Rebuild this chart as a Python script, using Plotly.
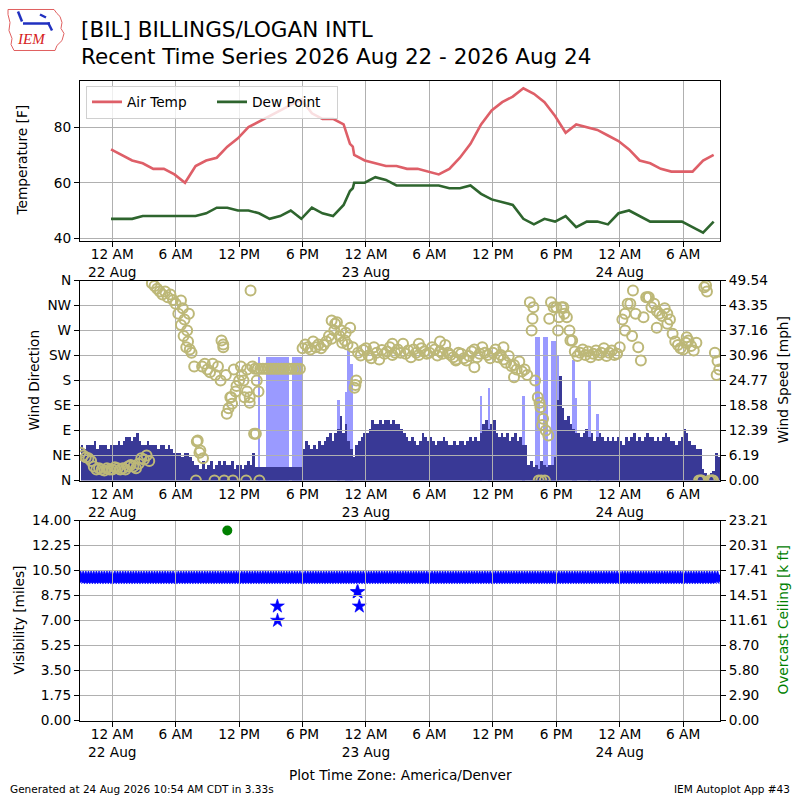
import pandas as pd
import plotly.graph_objects as go

# ---------------- DATA ----------------
temp_times = [
    "2026-08-21 23:53",
    "2026-08-22 00:53", "2026-08-22 01:53", "2026-08-22 02:53", "2026-08-22 03:53", "2026-08-22 04:53",
    "2026-08-22 05:53", "2026-08-22 06:53", "2026-08-22 07:53", "2026-08-22 08:53", "2026-08-22 09:53",
    "2026-08-22 10:53", "2026-08-22 11:53", "2026-08-22 12:53", "2026-08-22 13:53", "2026-08-22 14:53",
    "2026-08-22 15:53", "2026-08-22 16:53", "2026-08-22 17:53", "2026-08-22 18:53", "2026-08-22 19:53",
    "2026-08-22 20:53", "2026-08-22 21:53", "2026-08-22 22:29", "2026-08-22 22:45", "2026-08-22 22:53",
    "2026-08-22 23:53",
    "2026-08-23 00:53", "2026-08-23 01:53", "2026-08-23 02:53", "2026-08-23 03:53", "2026-08-23 04:53",
    "2026-08-23 05:53", "2026-08-23 06:53", "2026-08-23 07:53", "2026-08-23 08:53", "2026-08-23 09:53",
    "2026-08-23 10:53", "2026-08-23 11:53", "2026-08-23 12:53", "2026-08-23 13:53", "2026-08-23 14:53",
    "2026-08-23 15:53", "2026-08-23 16:53", "2026-08-23 17:53", "2026-08-23 18:53", "2026-08-23 19:53",
    "2026-08-23 20:53", "2026-08-23 21:53", "2026-08-23 22:53", "2026-08-23 23:53",
    "2026-08-24 00:53", "2026-08-24 01:53", "2026-08-24 02:53", "2026-08-24 03:53", "2026-08-24 04:53",
    "2026-08-24 05:53", "2026-08-24 06:53", "2026-08-24 07:53", "2026-08-24 08:53",
]
air_temp = [
    72,
    70, 68, 67, 65, 65, 63, 60, 66, 68, 69, 73, 76, 80, 82, 84, 86, 88, 90, 85, 83, 83, 81,
    74, 73, 70, 68,
    67, 66, 66, 65, 65, 64, 63, 65, 69, 74, 81, 86, 89, 91, 94, 92, 89, 84, 78, 81, 80, 79, 77, 75,
    72, 68, 67, 65, 64, 64, 64, 68, 70,
]
dew_point = [
    47,
    47, 47, 48, 48, 48, 48, 48, 48, 49, 51, 51, 50, 50, 49, 47, 48, 50, 47, 51, 49, 48, 52,
    57, 58, 60, 60,
    62, 61, 59, 59, 59, 59, 59, 58, 58, 59, 56, 54, 53, 52, 47, 45, 47, 46, 48, 44, 46, 46, 45, 49,
    50, 48, 46, 46, 46, 46, 44, 42, 46,
]

# 15-minute observations starting 2026-08-21 21:00 (one group of 4 per hour)
wind_start = "2026-08-21 21:00"
wind_speed = [
    9, 8, 9, 9,   9, 10, 8, 9,   9, 9, 8, 9,
    9, 9, 10, 9,  10, 11, 11, 10,  11, 12, 10, 9,  9, 10, 9, 9,  9, 8, 9, 9,
    8, 9, 8, 7,   7, 7, 6, 7,   7, 6, 5, 4,   4, 3, 5, 3,   4, 5, 3, 4,
    5, 4, 5, 4,   4, 5, 3, 4,   4, 3, 4, 5,   4, 7, 3.5, 3.5,   3.5, 3.5, 3.5, 3.5,
    3.5, 3.5, 3.5, 3.5,   3.5, 3.5, 3.5, 3.5,   3.5, 3.5, 3.5, 3.5,
    8, 10, 9, 8,   9, 8, 10, 9,   10, 11, 12, 10,   12, 13, 16, 12,   14, 10, 8, 6,   9, 10, 11, 12,
    12, 13, 15, 14,   14, 15, 14, 15,   15, 14, 15, 14,   14, 13, 12, 11,   10, 11, 10, 9,
    10, 12, 11, 10,   11, 10, 9, 10,   10, 11, 10, 9,   9, 10, 9, 10,   10, 9, 10, 11,
    10, 11, 10, 12,   14, 15, 13, 14,   15, 12, 11, 12,   11, 12, 10, 11,   12, 10, 11, 9,
    9, 4, 5, 3.5,   4, 3, 5, 4,   3.5, 4, 4, 6,   20, 26, 18, 15,   16, 14, 13, 12,
    12, 11, 12, 13,   11, 12, 10, 11,   12, 11, 10, 11,   10, 11, 10, 11,
    10, 9, 11, 10,   11, 12, 10, 11,   10, 11, 12, 11,   11, 10, 11, 10,   11, 12, 11, 10,
    10, 9, 10, 11,   13, 12, 10, 9,   9, 8, 8, 3,   2, 1.5, 2, 2.5,   7, 6,
]
wind_dir = [
    50, 45, 42, 40,   35, 25, 20, 22,   20, 18, 22, 20,
    20, 24, 22, 20,   22, 20, 25, 28,   25, 22, 30, 40,   38, 45, 35, 355,   350, 345, 340, 335,
    340, 330, 335, 325,   318, 300, 280, 260,   240, 300, 230, 205,   70, 50, 205, 210,
    200, 195, 210, 190,   205, 180, 245, 190,   130, 150, 200, 170,   180, 190, 150, 200,
    140, 205, 201, 201,   201, 201, 201, 201,   201, 201, 201, 201,   201, 201, 201, 201,
    201, 201, 201, 201,
    238, 245, 240, 236,   250, 240, 245, 238,   244, 250, 260, 255,   270, 285, 260, 248,
    252, 245, 275, 240,   172, 230, 225, 235,
    238, 225, 220, 240,   230, 218, 235, 228,   232, 240, 226, 230,   236, 230, 246, 228,
    234, 222, 236, 230,   226, 238, 232, 228,   230, 240, 236, 225,   232, 228, 244, 230,
    226, 222, 218, 230,   228, 220, 216, 224,   232, 236, 222, 228,   240, 230, 226, 220,
    230, 236, 222, 226,   218, 212, 224, 206,   208, 200, 214, 196,   200, 190, 321, 291,
    180, 150, 132, 111,   90, 81, 321, 312,   312, 294, 312, 300,   294, 270, 252, 232,
    224, 230, 236, 226,   232, 222, 228, 234,   226, 230, 238, 224,   230, 234, 226, 228,
    240, 290, 300, 318,   318, 342, 300, 240,   216, 294, 330, 330,   312, 318, 305, 300,
    296, 310, 282, 290,   264, 250, 244, 238,   236, 248, 252, 242,   234, 248, 0, 0,
    348, 340, 0, 0,   230, 215,
]
extra_dir_times = [
    "2026-08-22 06:30", "2026-08-22 06:40", "2026-08-22 06:50", "2026-08-22 07:05", "2026-08-22 07:10",
    "2026-08-22 07:20", "2026-08-22 07:55", "2026-08-22 08:05", "2026-08-22 08:20", "2026-08-22 08:35",
    "2026-08-22 09:40", "2026-08-22 10:20", "2026-08-22 10:30", "2026-08-22 10:35", "2026-08-22 10:50",
    "2026-08-22 11:10", "2026-08-22 11:20", "2026-08-22 11:25", "2026-08-22 11:40", "2026-08-22 12:10",
    "2026-08-22 12:25", "2026-08-22 12:40", "2026-08-22 12:45", "2026-08-22 13:00", "2026-08-22 13:05",
    "2026-08-22 13:25", "2026-08-22 13:35", "2026-08-22 13:40", "2026-08-22 13:50", "2026-08-22 13:55",
    "2026-08-22 20:45", "2026-08-22 21:05", "2026-08-22 21:40", "2026-08-22 22:05", "2026-08-22 22:55",
    "2026-08-22 23:05",
    "2026-08-23 02:30", "2026-08-23 05:00", "2026-08-23 07:00", "2026-08-23 08:30", "2026-08-23 10:15",
    "2026-08-23 13:00", "2026-08-23 14:00", "2026-08-23 15:40", "2026-08-23 15:50", "2026-08-23 16:20",
    "2026-08-23 16:25", "2026-08-23 16:35", "2026-08-23 16:40", "2026-08-23 16:55", "2026-08-23 17:20",
    "2026-08-23 18:10", "2026-08-23 18:40", "2026-08-23 19:20",
    "2026-08-24 00:30", "2026-08-24 01:10", "2026-08-24 02:40", "2026-08-24 03:30", "2026-08-24 04:30",
    "2026-08-24 06:20", "2026-08-24 07:40", "2026-08-24 08:10", "2026-08-24 08:40", "2026-08-24 08:50",
    "2026-08-24 09:10", "2026-08-24 09:25",
]
extra_dir_vals = [
    324, 310, 290, 270, 250,
    236, 0, 72, 54, 40,
    0, 252, 240, 0, 120,
    150, 138, 0, 160, 205,
    180, 0, 160, 150, 342,
    84, 84, 180, 160, 0,
    288, 282, 270, 266, 167,
    180,
    246, 246, 250, 216, 204,
    240, 186, 270, 312, 0,
    140, 0, 100, 0, 291,
    270, 312, 252,
    270, 260, 330, 275, 300,
    258, 0, 351, 0, 0,
    190, 200,
]
gust_times = [
    "2026-08-22 13:45", "2026-08-22 14:30", "2026-08-22 14:45", "2026-08-22 15:00", "2026-08-22 15:15",
    "2026-08-22 15:30", "2026-08-22 15:45", "2026-08-22 16:00", "2026-08-22 16:15", "2026-08-22 16:30",
    "2026-08-22 17:00", "2026-08-22 17:15", "2026-08-22 17:30", "2026-08-22 17:45",
    "2026-08-22 21:15", "2026-08-22 22:00", "2026-08-22 22:15", "2026-08-22 22:30",
    "2026-08-23 10:45", "2026-08-23 11:30", "2026-08-23 14:45", "2026-08-23 16:00", "2026-08-23 16:15",
    "2026-08-23 16:45", "2026-08-23 17:00", "2026-08-23 17:30", "2026-08-23 17:45", "2026-08-23 18:00",
    "2026-08-23 19:30", "2026-08-23 19:45", "2026-08-23 21:00", "2026-08-23 21:45",
]
gust_vals = [
    30.8, 30.8, 30.8, 30.8, 30.8,
    30.8, 30.8, 30.8, 30.8, 30.8,
    30.8, 30.8, 30.8, 30.8,
    20, 22, 33, 29,
    21, 23, 21, 35.7, 35.7,
    35.7, 35.7, 34.7, 34.7, 31,
    30, 20.6, 25, 16.5,
]
visibility = [
    10, 10, 10, 10, 10, 10, 10, 10, 10, 10, 10, 10,
    10, 10, 10, 10, 10, 10, 10, 10, 10, 10, 10, 10, 10, 10, 10, 10, 10, 10, 10, 10,
    10, 10, 10, 10, 10, 10, 10, 10, 10, 10, 10, 10, 10, 10, 10, 10, 10, 10, 10, 10,
    10, 10, 10, 10, 10, 10, 10, 10, 10, 10, 10, 10, 10, 10, 10, 10, 10, 10, 10, 10,
    10, 10, 10, 10, 10, 10, 10, 10, 10, 10, 10, 10, 10, 10, 10, 10, 10, 10, 10, 10,
    10, 10, 10, 10, 10, 10, 10, 10, 10, 10, 10, 10, 10, 10, 10, 10, 10, 10, 10, 10,
    10, 10, 10, 10, 10, 10, 10, 10, 10, 10, 10, 10, 10, 10, 10, 10, 10, 10, 10, 10,
    10, 10, 10, 10, 10, 10, 10, 10, 10, 10, 10, 10, 10, 10, 10, 10, 10, 10, 10, 10,
    10, 10, 10, 10, 10, 10, 10, 10, 10, 10, 10, 10, 10, 10, 10, 10, 10, 10, 10, 10,
    10, 10, 10, 10, 10, 10, 10, 10, 10, 10, 10, 10, 10, 10, 10, 10, 10, 10, 10, 10,
    10, 10, 10, 10, 10, 10, 10, 10, 10, 10, 10, 10, 10, 10, 10, 10, 10, 10, 10, 10,
    10, 10, 10, 10, 10, 10, 10, 10, 10, 10, 10, 10, 10, 10, 10, 10, 10, 10, 10, 10,
    10, 10, 10, 10, 10, 10, 10, 10, 10, 10,
]
vis_special_times = ["2026-08-22 15:37", "2026-08-22 15:38", "2026-08-22 23:10", "2026-08-22 23:14", "2026-08-22 23:22"]
vis_special_vals = [8, 7, 9, 9, 8]
ceiling_times = ["2026-08-22 10:53"]
ceiling_kft = [22.05]

x_tickvals = ["2026-08-22 00:00", "2026-08-22 06:00", "2026-08-22 12:00", "2026-08-22 18:00",
              "2026-08-23 00:00", "2026-08-23 06:00", "2026-08-23 12:00", "2026-08-23 18:00",
              "2026-08-24 00:00", "2026-08-24 06:00"]
x_ticktext = ["12 AM<br>22 Aug", "6 AM", "12 PM", "6 PM", "12 AM<br>23 Aug", "6 AM", "12 PM", "6 PM",
              "12 AM<br>24 Aug", "6 AM"]
temp_ticks = [40, 60, 80]
dir_ticktext = ["N", "NE", "E", "SE", "S", "SW", "W", "NW", "N"]
dir_tickvals = [0, 45, 90, 135, 180, 225, 270, 315, 360]
speed_ticktext = ["0.00", "6.19", "12.39", "18.58", "24.77", "30.96", "37.16", "43.35", "49.54"]
vis_ticktext = ["0.00", "1.75", "3.50", "5.25", "7.00", "8.75", "10.50", "12.25", "14.00"]
ceil_ticktext = ["0.00", "2.90", "5.80", "8.70", "11.61", "14.51", "17.41", "20.31", "23.21"]

# ---------------- FIGURE ----------------
FONT = "DejaVu Sans"
TICKF = 13.7
GRID = "#b0b0b0"
X_RANGE = ["2026-08-21 20:57", "2026-08-24 09:29"]

# page is photographed with a slight vertical squeeze; place items in target pixel terms
def PX(px):
    return px / 800

def PY(py):
    yf = (py - 7.5) / 0.98
    return 1 - yf / 800

wind_times = pd.date_range(wind_start, periods=len(wind_speed), freq="15min")
vis_times = pd.date_range(wind_start, periods=len(visibility), freq="15min")
BAR_W = 15 * 60 * 1000

fig = go.Figure()
fig.add_trace(go.Scatter(x=temp_times, y=air_temp, mode="lines", name="Air Temp",
                         line=dict(color="#de5f68", width=2.6), xaxis="x", yaxis="y"))
fig.add_trace(go.Scatter(x=temp_times, y=dew_point, mode="lines", name="Dew Point",
                         line=dict(color="#2e652e", width=2.6), xaxis="x", yaxis="y"))
fig.add_trace(go.Bar(x=gust_times, y=gust_vals, width=BAR_W, offset=0, marker=dict(color="#9a9aff", line=dict(width=0)),
                     showlegend=False, xaxis="x2", yaxis="y2"))
fig.add_trace(go.Bar(x=wind_times, y=wind_speed, width=BAR_W, offset=0, marker=dict(color="#393996", line=dict(width=0)),
                     showlegend=False, xaxis="x2", yaxis="y2"))
fig.add_trace(go.Scatter(x=list(wind_times) + [pd.Timestamp(t) for t in extra_dir_times],
                         y=wind_dir + extra_dir_vals, mode="markers", showlegend=False,
                         marker=dict(symbol="circle-open", size=10, color="#bdb878", line=dict(width=2, color="#bdb878")),
                         xaxis="x4", yaxis="y3"))
fig.add_trace(go.Scatter(x=list(vis_times) + [pd.Timestamp(t) for t in vis_special_times],
                         y=visibility + vis_special_vals, mode="markers", showlegend=False,
                         marker=dict(symbol="star", size=10.5, color="#0000ff", line=dict(width=0.6, color="#0000ff")),
                         xaxis="x3", yaxis="y4"))
fig.add_trace(go.Scatter(x=ceiling_times, y=ceiling_kft, mode="markers", showlegend=False,
                         marker=dict(symbol="circle", size=10, color="#008000"),
                         xaxis="x5", yaxis="y5"))

XDOM = [PX(80), PX(720)]
D1 = [PY(240), PY(80)]
D2 = [PY(480), PY(280)]
D3 = [PY(720), PY(520)]

def xax(anchor, labels=True, grid=False):
    return dict(domain=XDOM, anchor=anchor, range=X_RANGE, type="date",
                tickvals=x_tickvals, ticktext=x_ticktext, showticklabels=labels,
                ticks="outside" if labels else "", ticklen=5, tickcolor="black",
                ticklabelstandoff=-4,
                showgrid=grid, gridcolor=GRID, gridwidth=1.1,
                showline=True, mirror=True, linecolor="black", linewidth=1.2,
                tickfont=dict(size=TICKF, color="black"), zeroline=False, fixedrange=True)

def yax(domain, anchor, rng, vals, text, side="left", grid=False, labels=True):
    return dict(domain=domain, anchor=anchor, range=rng, tickvals=vals, ticktext=text, side=side,
                ticks="outside" if labels else "", ticklen=5, tickcolor="black", showticklabels=labels,
                showgrid=grid, gridcolor=GRID, gridwidth=1.1, zeroline=False,
                showline=True, mirror=True, linecolor="black", linewidth=1.2,
                tickfont=dict(size=TICKF, color="black"))

layout = dict(
    width=800, height=800, margin=dict(l=0, r=0, t=0, b=0), autosize=False,
    paper_bgcolor="white", plot_bgcolor="rgba(0,0,0,0)",
    font=dict(family=FONT, color="black", size=TICKF),
    barmode="overlay", bargap=0, showlegend=True,
    legend=dict(x=PX(86), y=PY(85), xanchor="left", yanchor="top", orientation="h",
                bgcolor="rgba(255,255,255,0.8)", bordercolor="#d0d0d0", borderwidth=1,
                font=dict(size=TICKF), entrywidth=80, entrywidthmode="pixels"),
    xaxis=xax("y", True, True),
    yaxis=yax(D1, "x", [39.2, 96.8], temp_ticks, [str(v) for v in temp_ticks], grid=True),
    xaxis2=xax("y2", True, False),
    yaxis2=yax(D2, "x2", [0, 49.54], [float(t) for t in speed_ticktext], speed_ticktext, side="right"),
    xaxis4=xax("y3", False, True),
    yaxis3=yax(D2, "x4", [0, 360], dir_tickvals, dir_ticktext, side="left", grid=True),
    xaxis3=xax("y4", True, False),
    yaxis4=yax(D3, "x3", [0, 14], [float(t) for t in vis_ticktext], vis_ticktext, side="left"),
    xaxis5=xax("y5", False, True),
    yaxis5=yax(D3, "x5", [0, 23.21], [float(t) for t in ceil_ticktext], ceil_ticktext, side="right", grid=True),
)

ann = []
def add_text(txt, px, py, size=TICKF, xanchor="center", angle=0, color="black", family=FONT):
    ann.append(dict(text=txt, x=PX(px), y=PY(py), xref="paper", yref="paper", xanchor=xanchor, yanchor="middle",
                    showarrow=False, textangle=angle, font=dict(size=size, color=color, family=family)))

add_text("[BIL] BILLINGS/LOGAN INTL", 79, 29, size=21.5, xanchor="left")
add_text("Recent Time Series 2026 Aug 22 - 2026 Aug 24", 79, 56, size=21.5, xanchor="left")
add_text("Temperature [F]", 22, 160, angle=-90)
add_text("Wind Direction", 33, 380, angle=-90)
add_text("Wind Speed [mph]", 782, 380, angle=-90)
add_text("Visibility [miles]", 18, 620, angle=-90)
add_text("Overcast Ceiling [k ft]", 782, 620, angle=-90, color="#008000")
add_text("Plot Time Zone: America/Denver", 400, 774)
add_text("Generated at 24 Aug 2026 10:54 AM CDT in 3.33s", 8, 788, size=10.5, xanchor="left")
add_text("IEM Autoplot App #43", 792, 788, size=10.5, xanchor="right")
add_text("<i>IEM</i>", 31, 39, size=15, color="#d62020", family="Liberation Serif")
layout["annotations"] = ann

# logo decoration (Iowa outline + icon)
outline = [(8, 9), (54, 9), (57, 13), (60, 16), (62, 22), (61, 28), (64, 33), (62, 40), (57, 45), (55, 50),
           (14, 50), (11, 44), (12, 38), (9, 30), (10, 22), (8, 14)]
path = "M " + " L ".join(f"{PX(a):.4f},{PY(b):.4f}" for a, b in outline) + " Z"
shapes = [dict(type="path", path=path, xref="paper", yref="paper", line=dict(color="#e06060", width=1))]
for (a, b, c, d) in [(23, 23, 50, 23), (18, 11, 22, 21), (40, 14, 46, 17), (48, 22, 52, 30)]:
    shapes.append(dict(type="line", x0=PX(a), y0=PY(b), x1=PX(c), y1=PY(d), xref="paper", yref="paper",
                       line=dict(color="#2030c0", width=2.5)))
layout["shapes"] = shapes

fig.update_layout(**layout)
fig.write_html("out.html", config={"displayModeBar": False},
               post_script="document.body.style.margin='0';document.body.style.overflow='hidden';")
